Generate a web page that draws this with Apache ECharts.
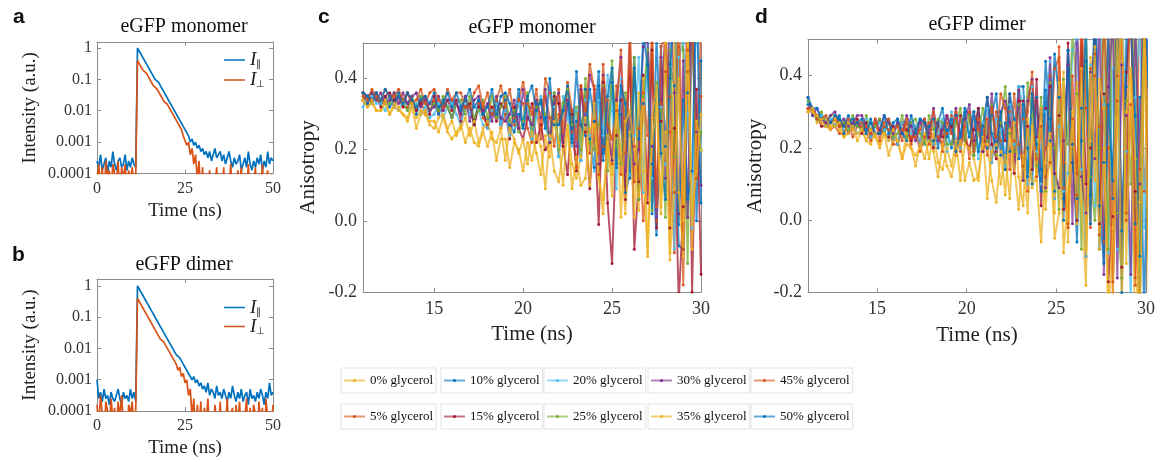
<!DOCTYPE html>
<html>
<head>
<meta charset="utf-8">
<script src="https://cdn.jsdelivr.net/npm/echarts@6/dist/echarts.min.js"></script>
<style>
html, body { margin: 0; padding: 0; background: #fff; }
#main { width: 1160px; height: 462px; }
</style>
</head>
<body>
<div id="main"></div>
<script>
var chart = echarts.init(document.getElementById('main'));

var SERIF = '"Liberation Serif", "Times New Roman", serif';

// ---- panels a / b : intensity decays ----
// log10(intensity), in tenths of a decade; t = 0..50 ns, every 0.5 ns
var decayStep = 0.5;
var aPar = [-36,-38,-34,-39,-37,-35,-40,-36,-38,-33, -37,-39,-36,-35,-38,-37,-34,-39,-36,-38,
  -35,-37,-38,0,-1,-2,-3,-4,-5,-6, -7,-8,-9,-10,-10,-11,-12,-13,-14,-15,
  -16,-17,-18,-19,-20,-21,-22,-23,-24,-25, -26,-27,-28,-30,-29,-31,-30,-32,-31,-33,
  -32,-34,-33,-35,-33,-36,-34,-32,-35,-34, -33,-36,-34,-37,-35,-33,-36,-38,-35,-37,
  -36,-34,-39,-37,-35,-38,-33,-37,-39,-36, -38,-35,-37,-34,-39,-36,-38,-33,-37,-35, -36];
var aPerp = [-42,-37,-45,-38,-50,-36,-41,-39,-47,-37, -40,-44,-36,-48,-38,-42,-37,-46,-39,-43,
  -38,-45,-41,-4,-5,-6,-7,-7,-8,-9, -10,-11,-12,-12,-13,-14,-15,-16,-17,-17,
  -18,-19,-20,-21,-22,-23,-24,-25,-26,-28, -28,-31,-30,-34,-32,-37,-34,-42,-36,-48,
  -38,-55,-40,-45,-39,-60,-41,-44,-38,-50, -40,-47,-38,-52,-41,-45,-37,-49,-42,-55,
  -39,-44,-38,-50,-40,-46,-37,-53,-41,-43, -38,-51,-40,-45,-37,-48,-42,-39,-56,-40, -44];
var bPar = [-30,-36,-34,-37,-33,-36,-35,-38,-34,-36, -37,-35,-33,-36,-38,-34,-36,-35,-37,-33,
  -36,-34,-37,0,-1,-2,-3,-4,-5,-6, -7,-8,-9,-10,-11,-12,-13,-14,-15,-16,
  -17,-18,-19,-20,-21,-22,-22,-23,-24,-25, -26,-27,-28,-28,-30,-29,-31,-30,-32,-31,
  -33,-32,-34,-31,-35,-33,-34,-36,-32,-35, -34,-36,-33,-35,-37,-34,-36,-32,-35,-37,
  -34,-36,-33,-37,-35,-34,-38,-33,-36,-35, -37,-34,-36,-33,-35,-38,-34,-36,-31,-35, -34];
var bPerp = [-38,-45,-35,-41,-50,-37,-40,-46,-36,-43, -39,-48,-37,-42,-35,-44,-40,-52,-38,-41,
  -37,-46,-40,-4,-5,-6,-7,-8,-9,-10, -11,-12,-13,-14,-15,-16,-17,-17,-18,-19,
  -20,-21,-22,-23,-24,-25,-27,-26,-29,-28, -31,-30,-35,-33,-42,-36,-50,-38,-45,-37,
  -55,-39,-44,-36,-48,-40,-60,-38,-43,-47, -37,-52,-40,-45,-36,-50,-41,-39,-55,-38,
  -44,-37,-49,-40,-42,-36,-53,-39,-46,-38, -41,-50,-37,-44,-39,-58,-36,-43,-40,-47, -38];
var decayTicks = [-4, -3, -2, -1, 0];
var decayTickLabels = ['0.0001', '0.001', '0.01', '0.1', '1'];

// ---- panels c / d : anisotropy, in hundredths, every 0.25 ns ----
var anisoStep = 0.25;
var monoStart = 11, dimerStart = 11.15;
var glycerolNames = ['0% glycerol', '5% glycerol', '10% glycerol', '15% glycerol', '20% glycerol',
  '25% glycerol', '30% glycerol', '35% glycerol', '45% glycerol', '50% glycerol'];
var glycerolColors = ['#EDB120', '#D95319', '#0072BD', '#A2142F', '#4DBEEE',
  '#77AC30', '#7E2F8E', '#EDB120', '#D95319', '#0072BD'];

var mono0 = [34,32,33,31, 31,33,30,32, 31,30,28,32, 26,30,31,28, 28,25,29,25, 23,25,27,22, 26,22,21,25, 21,25,17,23, 23,15,22,20, 14,22,17,24, 21,9,24,14, 11,20,26,9, 18,10,12,26, 27,12,2,24, 7,33,19,2, 25,1,36,14, -9,22,33,2, 50,-11,9,40, 0,52,-8,28, 20];
var mono5 = [35,33,36,34, 33,34,35,32, 35,32,32,34, 32,34,30,33, 34,30,33,32, 29,33,30,34, 32,27,33,29, 27,31,34,26, 30,26,27,34, 33,26,22,32, 23,35,29,21, 30,20,34,25, 15,27,32,19, 38,13,21,34, 16,38,13,28, 42,11,26,0, 14,50,0,33, 42,25,-9,49, -18,42,58,14, 35];
var mono10 = [36,33,35,36, 33,35,32,34, 36,34,33,35, 30,35,33,31, 33,30,34,32, 29,33,31,35, 32,27,34,30, 28,30,34,27, 34,27,25,30, 27,34,23,33, 33,29,22,36, 18,31,33,22, 28,17,37,23, 15,38,19,24, 39,15,30,8, 13,46,6,33, 44,16,-4,49, 21,44,38,-7, -8,36,64,0, 45];
var mono15 = [36,35,34,36, 32,35,36,34, 35,32,36,33, 31,33,35,30, 35,31,31,34, 31,34,28,32, 33,27,32,31, 26,32,28,33, 31,23,32,26, 23,29,33,22, 27,20,22,35, 33,21,13,30, 14,38,25,9, 28,-1,39,5, -12,24,34,6, 51,-8,11,41, 5,48,-2,28, 55,-2,26,-23, 4,66,-20,37, -15];
var mono20 = [32,35,35,33, 33,31,35,32, 31,34,31,32, 33,30,32,29, 30,33,29,32, 33,30,27,33, 30,32,31,27, 26,31,33,27, 31,24,28,33, 26,33,23,29, 35,26,23,32, 18,35,29,21, 31,17,34,24, 14,34,24,41, 31,9,40,19, 13,24,46,8, 54,12,1,32, 16,53,-8,46, 50,30,-2,66, 20];
var mono25 = [34,35,36,34, 34,33,33,36, 35,33,31,35, 32,35,33,31, 33,31,35,32, 29,33,34,30, 35,29,31,34, 29,35,29,32, 35,28,31,25, 28,36,25,32, 34,30,22,36, 20,33,37,27, 32,20,40,22, 20,27,38,14, 45,21,16,36, 24,46,6,35, 48,3,39,31, 1,48,18,62, 48,-12,60,12, 25];
var mono30 = [34,35,36,34, 36,33,34,36, 33,36,33,35, 36,32,34,31, 32,35,31,34, 34,33,30,35, 28,34,35,31, 33,28,35,29, 28,30,34,26, 37,29,27,34, 29,37,22,33, 36,22,34,31, 21,37,27,41, 37,16,41,24, 17,34,46,14, 31,16,20,49, 51,21,1,46, 12,63,36,2, 45,1,65,25, 10];
var mono35 = [34,32,34,31, 31,34,30,33, 32,30,29,33, 29,31,30,27, 26,29,30,26, 28,24,26,29, 24,28,22,26, 28,23,22,26, 17,26,23,19, 23,16,25,19, 13,24,18,28, 22,10,27,16, 12,18,29,10, 33,12,6,22, 13,32,1,28, 31,20,3,40, -10,29,38,4, 25,-9,52,8, -10,54,2,14, 30];
var mono45 = [36,34,37,35, 34,37,35,35, 37,34,36,33, 34,37,33,36, 37,34,32,37, 34,36,36,32, 32,36,38,32, 36,30,34,38, 32,37,29,34, 39,33,30,37, 26,40,36,28, 37,25,39,31, 23,38,31,44, 37,19,44,27, 23,31,48,19, 54,21,12,36, 24,54,4,49, 52,35,8,66, -8,48,60,12, 55];
var mono50 = [36,35,33,36, 34,37,35,33, 35,33,36,34, 32,34,35,33, 36,32,33,36, 32,36,32,34, 37,32,34,30, 32,37,30,35, 36,33,28,37, 26,35,38,31, 34,26,40,27, 27,31,38,23, 42,27,24,37, 28,42,17,35, 43,16,38,33, 12,43,23,52, 44,2,52,19, 6,40,64,-1, 34,6,14,66, 5];

var dimer0 = [30,30,29,27, 26,25,28,25, 23,24,26,22, 25,22,21,24, 21,24,18,22, 22,17,21,20, 15,21,17,22, 19,12,21,15, 12,18,22,11, 16,11,12,21, 21,11,5,19, 7,25,15,3, 18,2,26,11, -6,16,24,2, 38,-9,7,30, -1,42,-8,22, 48,-8,20,-28, -2,57,-24,30, 42,17,-33,52, -20];
var dimer5 = [30,31,28,27, 27,25,26,24, 24,27,23,26, 26,24,22,27, 24,26,25,21, 21,25,27,21, 25,19,23,27, 21,27,19,24, 29,22,20,26, 17,30,25,19, 28,16,30,22, 14,30,22,36, 28,8,35,17, 10,20,40,6, 48,9,-1,28, 13,49,-10,42, 46,26,-6,62, -22,40,54,0, 32,-18,72,8, 25];
var dimer10 = [32,31,28,29, 28,28,26,29, 24,27,28,26, 27,24,28,24, 24,25,28,22, 28,24,23,27, 24,28,21,26, 28,20,27,25, 20,29,23,31, 29,18,31,23, 20,29,35,18, 27,19,21,37, 37,20,10,34, 14,44,28,8, 34,6,47,21, -6,31,44,7, 64,-8,16,52, 6,64,-3,37, 69,-1,34,-26, 40];
var dimer15 = [31,31,29,26, 26,27,28,26, 27,24,26,28, 24,27,23,26, 28,24,23,26, 21,27,25,22, 26,21,27,23, 20,27,23,29, 26,18,29,22, 20,25,31,19, 34,21,17,27, 22,35,13,33, 33,26,14,39, 4,31,37,13, 29,3,49,16, 0,53,10,20, 55,-1,35,-17, 1,68,-13,41, 58,8,-27,68, -10];
var dimer20 = [33,29,28,29, 26,28,26,27, 28,25,26,24, 25,28,23,26, 27,25,22,27, 21,27,28,24, 26,21,28,22, 21,24,28,19, 30,22,20,27, 23,30,17,27, 31,16,28,25, 15,32,21,37, 32,10,37,19, 10,30,44,6, 26,8,13,47, 50,14,-10,43, 4,64,32,-9, 42,-8,64,19, -22,34,54,-2, 50];
var dimer25 = [33,31,28,30, 26,29,29,27, 27,25,29,26, 25,29,25,26, 28,24,27,23, 24,29,23,27, 28,24,21,29, 25,28,27,21, 21,27,31,22, 29,18,24,31, 22,32,18,27, 37,24,19,32, 11,38,29,15, 34,8,38,20, 3,39,21,52, 35,-8,52,12, 0,20,60,-8, 69,2,-16,33, 10,64,-26,54, -5];
var dimer30 = [34,29,31,28, 27,29,30,27, 28,26,27,29, 29,26,24,28, 25,29,27,24, 27,24,29,26, 22,27,28,24, 31,22,25,29, 24,31,22,28, 32,22,27,19, 23,35,19,30, 33,27,15,36, 11,33,39,23, 31,9,45,13, 9,22,43,-1, 58,12,2,41, 17,57,-15,37, 56,-16,43,29, -15,55,10,75, 15];
var dimer35 = [30,31,27,28, 28,26,26,27, 23,27,25,24, 25,22,25,23, 20,24,22,25, 22,17,24,20, 18,20,24,17, 24,16,14,20, 15,22,11,21, 20,17,11,23, 6,19,21,10, 18,6,27,12, 4,28,9,13, 31,3,21,-5, 2,41,-6,25, 38,5,-18,45, 11,39,31,-21, -21,28,60,-12, 40,-35,5,55, 20];
var dimer45 = [31,31,28,28, 29,27,28,26, 26,28,25,27, 27,26,24,28, 22,27,28,25, 26,22,28,23, 23,25,28,21, 30,23,21,27, 24,30,19,27, 30,19,28,26, 18,31,23,35, 31,14,35,21, 15,30,41,12, 26,12,16,42, 45,16,-2,40, 7,57,31,-2, 40,-4,60,20, -17,33,51,2, 74,-16,14,59, 0];
var dimer50 = [34,31,31,28, 28,27,29,28, 26,29,26,27, 28,25,27,24, 24,29,24,27, 28,24,22,29, 25,28,27,22, 22,27,31,23, 28,19,24,30, 23,30,19,26, 34,24,20,30, 14,35,28,17, 32,12,35,21, 8,36,22,46, 34,0,47,16, 6,22,55,-1, 64,4,-12,32, 11,60,-20,51, 54,29,-10,74, 35];

var monoData = [mono0, mono5, mono10, mono15, mono20, mono25, mono30, mono35, mono45, mono50];
var dimerData = [dimer0, dimer5, dimer10, dimer15, dimer20, dimer25, dimer30, dimer35, dimer45, dimer50];
// yellow series drawn last, as in the figure
var drawOrder = [1, 2, 3, 4, 5, 6, 8, 9, 0, 7];

var anisoTicks = [-0.2, 0, 0.2, 0.4];
var timeTicks = [15, 20, 25, 30];

// legend layout at the bottom
var legendRows = [
  ['0% glycerol', '10% glycerol', '20% glycerol', '30% glycerol', '45% glycerol'],
  ['5% glycerol', '15% glycerol', '25% glycerol', '35% glycerol', '50% glycerol']
];
var legendLeft = [341, 441, 544, 648, 751];
var legendTop = [368, 404];

// grids: a, b, c, d
var grids = [
  {left: 97, top: 42, width: 176, height: 131.5},
  {left: 97, top: 279, width: 176, height: 132},
  {left: 363, top: 43, width: 338, height: 249},
  {left: 808, top: 39.5, width: 338, height: 253}
];

var AXIS_COLOR = '#8c8c8c';
var xAxes = [], yAxes = [];

function addAxes(kind, gi, a) {
  var list = kind === 'x' ? xAxes : yAxes;
  list.push({
    type: 'value', gridIndex: gi, min: a.min, max: a.max,
    position: kind === 'x' ? 'bottom' : 'left',
    name: a.name, nameLocation: 'middle', nameGap: a.nameGap,
    nameTextStyle: {fontFamily: SERIF, fontSize: a.nameSize, color: '#222'},
    axisLine: {show: true, onZero: false, lineStyle: {color: AXIS_COLOR, width: 1}},
    axisTick: {show: true, inside: true, length: 4, customValues: a.ticks, lineStyle: {color: AXIS_COLOR}},
    axisLabel: {customValues: a.ticks, formatter: a.fmt, fontFamily: SERIF, fontSize: a.size,
      color: '#333', margin: a.margin},
    splitLine: {show: false}
  });
  list.push({
    type: 'value', gridIndex: gi, min: a.min, max: a.max,
    position: kind === 'x' ? 'top' : 'right',
    axisLine: {show: true, onZero: false, lineStyle: {color: AXIS_COLOR, width: 1}},
    axisTick: {show: true, inside: true, length: 4, customValues: a.ticks, lineStyle: {color: AXIS_COLOR}},
    axisLabel: {show: false},
    splitLine: {show: false}
  });
}

function decadeLabel(v) {
  var i = decayTicks.indexOf(Math.round(v));
  return i < 0 ? '' : decayTickLabels[i];
}

// a, b
[0, 1].forEach(function (gi) {
  addAxes('x', gi, {min: 0, max: 50, ticks: [0, 25, 50], fmt: function (v) { return String(v); },
    name: 'Time (ns)', nameGap: 28, nameSize: 19, size: 16, margin: 7});
  addAxes('y', gi, {min: -4, max: gi === 0 ? 0.19 : 0.22, ticks: decayTicks, fmt: decadeLabel,
    name: 'Intensity (a.u.)', nameGap: 57, nameSize: 19, size: 16, margin: 5});
});
// c, d
[2, 3].forEach(function (gi) {
  addAxes('x', gi, {min: gi === 2 ? monoStart : dimerStart, max: 30, ticks: timeTicks,
    fmt: function (v) { return String(v); },
    name: 'Time (ns)', nameGap: 32, nameSize: 21, size: 18, margin: 8});
  addAxes('y', gi, {min: -0.2, max: 0.5, ticks: anisoTicks, fmt: function (v) { return v.toFixed(1); },
    name: 'Anisotropy', nameGap: gi === 2 ? 44 : 42, nameSize: 21, size: 18, margin: 6});
});

var series = [];

function decaySeries(name, vals, color, gi) {
  return {
    type: 'line', name: name, xAxisIndex: 2 * gi, yAxisIndex: 2 * gi,
    data: vals.map(function (v, i) { return [i * decayStep, v / 10]; }),
    symbol: 'none', lineStyle: {color: color, width: 1.7}, itemStyle: {color: color},
    clip: true, silent: true, animation: false
  };
}
series.push(decaySeries('I∥', aPar, '#0072BD', 0));
series.push(decaySeries('I⊥', aPerp, '#D95319', 0));
series.push(decaySeries('I∥', bPar, '#0072BD', 1));
series.push(decaySeries('I⊥', bPerp, '#D95319', 1));

function anisoSeries(k, vals, gi, t0) {
  var color = glycerolColors[k];
  return {
    type: 'line', name: glycerolNames[k], xAxisIndex: 2 * gi, yAxisIndex: 2 * gi,
    data: vals.map(function (v, i) { return [t0 + i * anisoStep, v / 100]; }),
    symbol: 'circle', symbolSize: 3, showSymbol: true,
    lineStyle: {color: color, width: 1.9, opacity: 0.75},
    itemStyle: {color: color, opacity: 0.95},
    clip: true, silent: true, animation: false
  };
}
drawOrder.forEach(function (k) { series.push(anisoSeries(k, monoData[k], 2, monoStart)); });
drawOrder.forEach(function (k) { series.push(anisoSeries(k, dimerData[k], 3, dimerStart)); });

var legends = [];
legendRows.forEach(function (row, r) {
  row.forEach(function (name, c) {
    legends.push({
      data: [name], left: legendLeft[c], top: legendTop[r],
      orient: 'horizontal', itemWidth: 21, itemHeight: 4,
      padding: [6, 3, 6, 2], borderColor: '#e3e3e3', borderWidth: 1, backgroundColor: '#fff',
      textStyle: {fontFamily: SERIF, fontSize: 13, color: '#111'},
      lineStyle: {width: 2, opacity: 0.6}
    });
  });
});

function intensityLegend(top, lh) {
  return {
    data: ['I∥', 'I⊥'], orient: 'vertical', left: 224, top: top, padding: 0, itemGap: 0,
    icon: 'rect', itemWidth: 21, itemHeight: 1.5,
    formatter: function (n) { return '{i|I}{s|' + n.slice(1) + '}'; },
    textStyle: {
      lineHeight: lh,
      rich: {
        i: {fontFamily: SERIF, fontStyle: 'italic', fontSize: 19, color: '#222', lineHeight: lh},
        s: {fontFamily: SERIF, fontSize: 10, color: '#222', padding: [9, 0, 0, 0], lineHeight: lh}
      }
    }
  };
}
legends.push(intensityLegend(50, 20));
legends.push(intensityLegend(298, 16));

function label(text, x, y, font, align) {
  return {
    type: 'text', x: x, y: y, silent: true,
    style: {text: text, fill: '#111', font: font, textAlign: align || 'center', verticalAlign: 'middle'}
  };
}
var titleFont = '20px "Liberation Serif", serif';
var letterFont = 'bold 21px "Liberation Sans", Arial, sans-serif';

chart.setOption({
  backgroundColor: '#fff',
  animation: false,
  grid: grids,
  xAxis: xAxes,
  yAxis: yAxes,
  legend: legends,
  series: series,
  graphic: [
    label('eGFP monomer', 184, 26.5, titleFont),
    label('eGFP dimer', 184, 265, titleFont),
    label('eGFP monomer', 532, 28, titleFont),
    label('eGFP dimer', 977, 25, titleFont),
    label('a', 13, 17.6, letterFont, 'left'),
    label('b', 12, 255.6, letterFont, 'left'),
    label('c', 318, 17.6, letterFont, 'left'),
    label('d', 755, 17.6, letterFont, 'left')
  ]
});
</script>
</body>
</html>
